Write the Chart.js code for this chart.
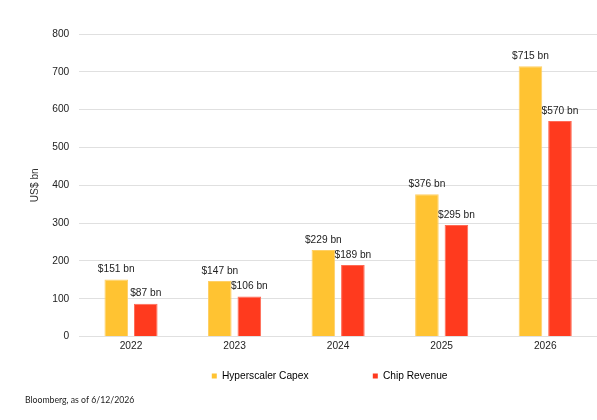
<!DOCTYPE html>
<html>
<head>
<meta charset="utf-8">
<script src="https://cdn.jsdelivr.net/npm/chart.js@4.4.1/dist/chart.umd.min.js"></script>
<style>
  html, body { margin: 0; padding: 0; background: #fff; }
  #wrap { width: 597px; height: 420px; position: relative; }
</style>
</head>
<body>
<div id="wrap"><canvas id="chart-capex"></canvas></div>
<script>
// Datos del grafico
var years = ['2022', '2023', '2024', '2025', '2026'];
var capex = [151, 147, 229, 376, 715];
var chipRevenue = [87, 106, 189, 295, 570];
var yTicks = [0, 100, 200, 300, 400, 500, 600, 700, 800];
var sourceNote = 'Bloomberg, as of 6/12/2026';

var FONT = '"Liberation Sans", Arial, Helvetica, sans-serif';
var FS = 10.2;

// etiquetas "$xxx bn" encima de cada barra
var barLabels = {
    id: 'barLabels',
    afterDatasetsDraw: function (chart) {
        var ctx = chart.ctx;
        ctx.save();
        ctx.font = FS + 'px ' + FONT;
        ctx.fillStyle = '#222';
        ctx.textAlign = 'center';
        ctx.textBaseline = 'bottom';
        chart.data.datasets.forEach(function (ds, i) {
            chart.getDatasetMeta(i).data.forEach(function (bar, j) {
                ctx.fillText('$' + ds.data[j] + ' bn', bar.x, bar.y - 5);
            });
        });
        ctx.restore();
    }
};

// nota de la fuente abajo a la izquierda
var footNote = {
    id: 'footNote',
    afterDraw: function (chart) {
        var ctx = chart.ctx;
        ctx.save();
        ctx.font = '8.7px Lato, "DejaVu Sans", sans-serif';
        ctx.fillStyle = '#222';
        ctx.textAlign = 'left';
        ctx.textBaseline = 'middle';
        ctx.fillText(sourceNote, 25, 400);
        ctx.restore();
    }
};

// espacios para separar los items de la leyenda como en el original
var legendPad = ['                ', '      '];

var contexto = document.getElementById('chart-capex').getContext('2d');
var chartCapex = new Chart(contexto, {
    type: 'bar',
    data: {
        labels: years,
        datasets: [{
            label: 'Hyperscaler Capex',
            data: capex,
            backgroundColor: '#FFC332',
            borderColor: '#FFD066',
            borderWidth: 1,
            barPercentage: 0.8,
            categoryPercentage: 0.57
        }, {
            label: 'Chip Revenue',
            data: chipRevenue,
            backgroundColor: '#FF3A1E',
            borderColor: '#FF6A55',
            borderWidth: 1,
            barPercentage: 0.8,
            categoryPercentage: 0.57
        }]
    },
    plugins: [barLabels, footNote],
    options: {
        responsive: true,
        maintainAspectRatio: false,
        animation: false,
        layout: {
            padding: { top: 34, right: 0, bottom: 29, left: 29 }
        },
        plugins: {
            tooltip: { enabled: false },
            legend: {
                position: 'bottom',
                fullSize: false,
                labels: {
                    boxWidth: 5,
                    boxHeight: 5,
                    padding: 19,
                    color: '#222',
                    font: { family: FONT, size: FS },
                    generateLabels: function (chart) {
                        return chart.data.datasets.map(function (ds, i) {
                            return {
                                text: ds.label + legendPad[i],
                                fillStyle: ds.backgroundColor,
                                strokeStyle: ds.backgroundColor,
                                lineWidth: 0,
                                datasetIndex: i
                            };
                        });
                    }
                }
            }
        },
        scales: {
            x: {
                grid: { display: false },
                border: { display: false },
                afterFit: function (axis) {
                    axis.height += 3;
                },
                ticks: {
                    color: '#222',
                    padding: -4,
                    font: { family: FONT, size: FS }
                }
            },
            y: {
                min: 0,
                max: 800,
                afterBuildTicks: function (axis) {
                    axis.ticks = yTicks.map(function (v) { return { value: v }; });
                },
                grid: { color: '#e0e0e0', drawTicks: false },
                border: { display: false },
                ticks: {
                    color: '#222',
                    padding: 10,
                    font: { family: FONT, size: FS }
                },
                title: {
                    display: true,
                    text: 'US$ bn',
                    color: '#333',
                    padding: { top: 0, bottom: 1 },
                    font: { family: FONT, size: FS }
                }
            }
        }
    }
});
</script>
</body>
</html>
